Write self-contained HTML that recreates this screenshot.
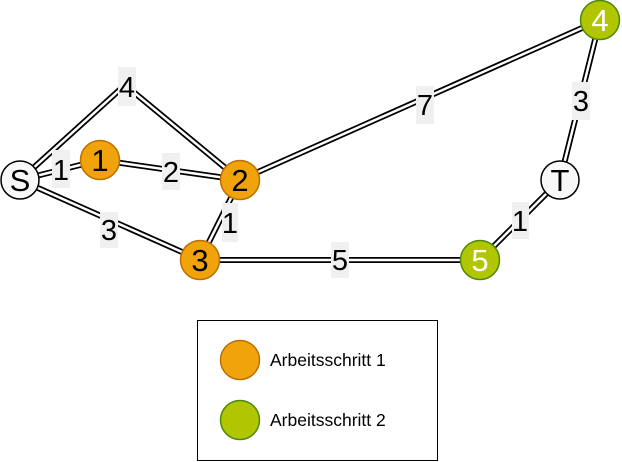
<!DOCTYPE html>
<html><head><meta charset="utf-8"><style>body{margin:0;background:#fff}svg{display:block}</style></head>
<body>
<svg width="622" height="462" xmlns="http://www.w3.org/2000/svg" font-family="Liberation Sans, sans-serif">
<g fill="none" stroke-linejoin="round">
<g stroke="#000" stroke-width="6">
<polyline points="20,180 125,85 240,180"/>
<line x1="20" y1="180" x2="100" y2="160"/>
<line x1="100" y1="160" x2="240" y2="180"/>
<line x1="20" y1="180" x2="200" y2="260"/>
<line x1="240" y1="180" x2="200" y2="260"/>
<line x1="200" y1="260" x2="480" y2="260"/>
<line x1="240" y1="180" x2="600" y2="20"/>
<line x1="600" y1="20" x2="560" y2="180"/>
<line x1="560" y1="180" x2="480" y2="260"/>
</g>
<g stroke="#fff" stroke-width="2.5">
<polyline points="20,180 125,85 240,180"/>
<line x1="20" y1="180" x2="100" y2="160"/>
<line x1="100" y1="160" x2="240" y2="180"/>
<line x1="20" y1="180" x2="200" y2="260"/>
<line x1="240" y1="180" x2="200" y2="260"/>
<line x1="200" y1="260" x2="480" y2="260"/>
<line x1="240" y1="180" x2="600" y2="20"/>
<line x1="600" y1="20" x2="560" y2="180"/>
<line x1="560" y1="180" x2="480" y2="260"/>
</g>
</g>
<g fill="#f0f0f0">
<rect x="118" y="67" width="18" height="39"/>
<rect x="52" y="150" width="18" height="38"/>
<rect x="162" y="153" width="18" height="37"/>
<rect x="100" y="212" width="18" height="36"/>
<rect x="222" y="203" width="16" height="39"/>
<rect x="331" y="242" width="18" height="36"/>
<rect x="416" y="86" width="18" height="38"/>
<rect x="572" y="82" width="18" height="38"/>
<rect x="512" y="202" width="17" height="37"/>
</g>
<g font-size="29" text-anchor="middle" fill="#000">
<text x="127" y="97">4</text>
<text x="61" y="180">1</text>
<text x="171" y="182">2</text>
<text x="109" y="240">3</text>
<text x="230" y="233">1</text>
<text x="340" y="270">5</text>
<text x="425" y="115">7</text>
<text x="581" y="111">3</text>
<text x="520" y="231">1</text>
</g>
<g stroke-width="1.5">
<circle cx="20" cy="180" r="19" fill="#f8f8f8" stroke="#000"/>
<circle cx="560" cy="180" r="19" fill="#f8f8f8" stroke="#000"/>
<circle cx="100" cy="160" r="19.5" fill="#f0a30a" stroke="#bd7000"/>
<circle cx="240" cy="180" r="19.5" fill="#f0a30a" stroke="#bd7000"/>
<circle cx="200" cy="260" r="19.5" fill="#f0a30a" stroke="#bd7000"/>
<circle cx="600" cy="20" r="19.5" fill="#b1c600" stroke="#4d8a10"/>
<circle cx="480" cy="260" r="19.5" fill="#b1c600" stroke="#4d8a10"/>
</g>
<g font-size="31" text-anchor="middle">
<text x="20" y="191">S</text>
<text x="560" y="191">T</text>
<text x="100" y="171">1</text>
<text x="240" y="191">2</text>
<text x="200" y="271">3</text>
<text x="600" y="31" fill="#fff">4</text>
<text x="480" y="271" fill="#fff">5</text>
</g>
<rect x="197.5" y="320.5" width="240" height="140" fill="#fff" stroke="#000"/>
<circle cx="240" cy="360" r="19.5" fill="#f0a30a" stroke="#bd7000" stroke-width="1.5"/>
<circle cx="240" cy="420" r="19.5" fill="#b1c600" stroke="#4d8a10" stroke-width="1.5"/>
<text x="270" y="366" font-size="17.5">Arbeitsschritt 1</text>
<text x="270" y="426" font-size="17.5">Arbeitsschritt 2</text>
</svg>
</body></html>
